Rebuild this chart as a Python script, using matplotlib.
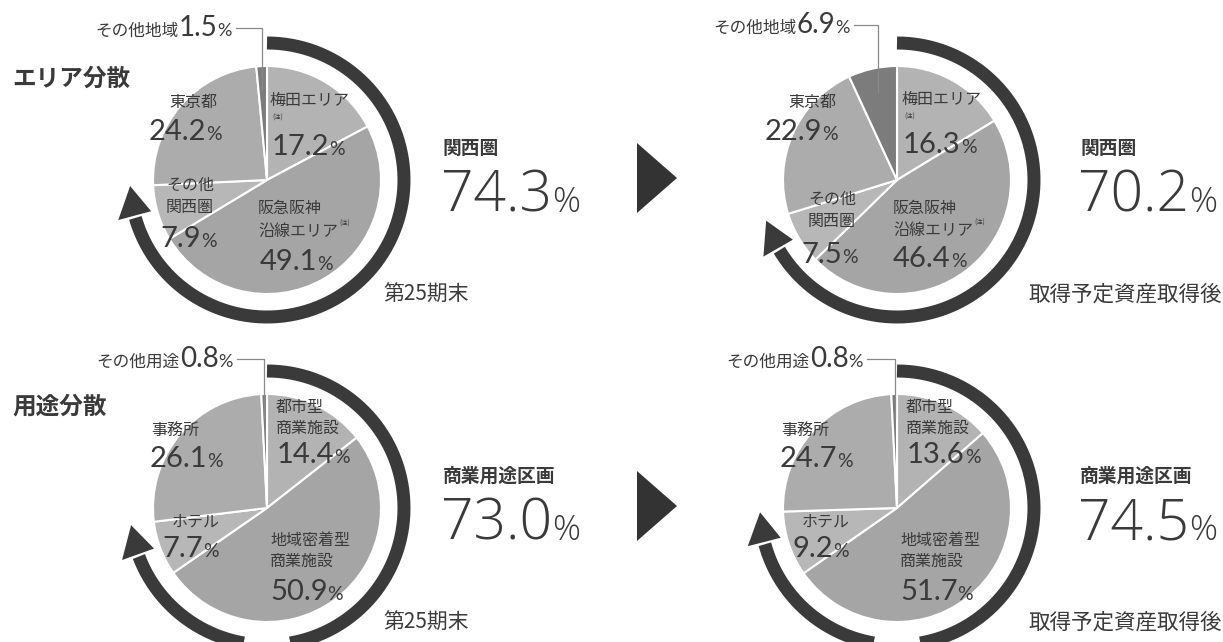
import numpy as np
import matplotlib
matplotlib.use("Agg")
import matplotlib.pyplot as plt

# ── Data ───────────────────────────────────────────────────
area_names = ["梅田エリア", "阪急阪神沿線エリア", "その他関西圏", "東京都", "その他地域"]
area_before = [17.2, 49.1, 7.9, 24.2, 1.5]
area_after = [16.3, 46.4, 7.5, 22.9, 6.9]
area_ring = [74.3, 70.2]            # 関西圏

use_names = ["都市型商業施設", "地域密着型商業施設", "ホテル", "事務所", "その他用途"]
use_before = [14.4, 50.9, 7.7, 26.1, 0.8]
use_after = [13.6, 51.7, 9.2, 24.7, 0.8]
use_ring = [73.0, 74.5]             # 商業用途区画

row_titles = ["エリア分散", "用途分散"]
ring_titles = ["関西圏", "商業用途区画"]
period_labels = ["第25期末", "取得予定資産取得後"]

# ── Style ──────────────────────────────────────────────────
W, H = 1223, 642
JP = ["Noto Sans CJK JP", "DejaVu Sans"]
NUM = ["Lato", "Noto Sans CJK JP", "DejaVu Sans"]
BIG = ["Open Sans", "Lato", "DejaVu Sans"]
TXT = "#3a3a3a"
DARK = "#3a3a3a"
SLICE_COLORS = ["#b3b3b3", "#a5a5a5", "#b7b7b7", "#acacac", "#7c7c7c"]
R_PIE = 114
R_RING = 137
RING_PX = 13

plt.rcParams["font.family"] = JP

fig = plt.figure(figsize=(W / 100, H / 100), dpi=100)
ax = fig.add_axes([0, 0, 1, 1])


def Y(y):
    return H - y


def draw_pie(cx, cy, values):
    ax.pie(values, colors=SLICE_COLORS, startangle=90, counterclock=False,
           radius=R_PIE, center=(cx, Y(cy)),
           wedgeprops=dict(edgecolor="white", linewidth=1.5))


def draw_ring(cx, cy, pct):
    tip = 90 - 360 * pct / 100
    head_len = np.degrees(30 / R_RING)
    base = tip + head_len
    th = np.radians(np.linspace(90, base + 1, 300))
    ax.plot(cx + R_RING * np.cos(th), Y(cy) + R_RING * np.sin(th),
            color=DARK, lw=RING_PX * 0.72, solid_capstyle="butt")
    b, t = np.radians(base), np.radians(tip)
    hw = 17
    ax.fill([cx + (R_RING - hw) * np.cos(b), cx + (R_RING + hw) * np.cos(b),
             cx + R_RING * np.cos(t)],
            [Y(cy) + (R_RING - hw) * np.sin(b), Y(cy) + (R_RING + hw) * np.sin(b),
             Y(cy) + R_RING * np.sin(t)], color=DARK, lw=0)


for (cx, cy), vals in [((267, 180), area_before), ((897, 180), area_after),
                       ((267, 508), use_before), ((897, 508), use_after)]:
    draw_pie(cx, cy, vals)
for (cx, cy), p in [((267, 180), area_ring[0]), ((897, 180), area_ring[1]),
                    ((267, 508), use_ring[0]), ((897, 508), use_ring[1])]:
    draw_ring(cx, cy, p)

ax.set_xlim(0, W)
ax.set_ylim(0, H)
ax.set_aspect("equal")
ax.axis("off")

renderer = fig.canvas.get_renderer()


# ── Text helpers ───────────────────────────────────────────
def rich(x, y, parts, ha="left"):
    """parts: (text, size, family, weight, rise) placed side by side on one baseline"""
    arts = []
    for s, fs, fam, wt, rise in parts:
        a = ax.text(0, Y(y) + rise, s, fontsize=fs, family=fam, fontweight=wt,
                    va="baseline", ha="left", color=TXT)
        arts.append(a)
    ws = [a.get_window_extent(renderer).width for a in arts]
    total = sum(ws)
    start = {"left": x, "right": x - total, "center": x - total / 2}[ha]
    for a, w in zip(arts, ws):
        a.set_x(start)
        start += w
    return start


def pct(x, y, v, ha="left", fs=21, pfs=14):
    return rich(x, y, [(f"{v:.1f}", fs, NUM, "normal", 0),
                       ("%", pfs, NUM, "normal", 0)], ha=ha)


def jp(x, y, s, fs=11.5, ha="left", weight="normal"):
    ax.text(x, Y(y), s, fontsize=fs, ha=ha, va="center", color=TXT,
            fontweight=weight)


def note(x, y):
    ax.text(x, Y(y), "(注)", fontsize=4.5, ha="left", va="center", color=TXT)


def leader(cx, cy, vals, text_right, base_y, name, v):
    rich(text_right, base_y, [(name, 12, JP, "normal", 0),
                              (f"{v:.1f}", 20, NUM, "normal", 0),
                              ("%", 13, NUM, "normal", 0)], ha="right")
    mid = 90 - 360 * (sum(vals[:-1]) + vals[-1] / 2) / 100
    lx = cx + 90 * np.cos(np.radians(mid))
    ly = cy - 90 * np.sin(np.radians(mid))
    hy = base_y - 8
    ax.plot([text_right + 4, lx, lx], [Y(hy), Y(hy), Y(ly)],
            color="#8a8a8a", lw=0.9)


# ── Area pies ──────────────────────────────────────────────
jp(12, 79, row_titles[0], fs=17, weight="bold")
jp(12, 407, row_titles[1], fs=17, weight="bold")

# before (267,180)
cx, cy = 267, 180
jp(cx + 3, cy - 80, "梅田エリア")
note(cx + 5, cy - 62)
pct(cx + 5, cy - 25, area_before[0])
x = rich(cx - 9, cy + 56, [("沿線エリア", 11.5, JP, "normal", 0)])
note(x + 1, cy + 44)
jp(cx - 9, cy + 28, "阪急阪神")
pct(cx - 7, cy + 90, area_before[1])
jp(cx - 77, cy + 5, "その他", ha="center")
jp(cx - 77, cy + 27, "関西圏", ha="center")
pct(cx - 78, cy + 67, area_before[2], ha="center")
jp(cx - 74, cy - 78, area_names[3], ha="center")
pct(cx - 82, cy - 40, area_before[3], ha="center")
leader(cx, cy, area_before, 232, 36, area_names[4], area_before[4])

# after (897,180)
cx, cy = 897, 180
jp(cx + 5, cy - 81, "梅田エリア")
note(cx + 7, cy - 63)
pct(cx + 6, cy - 27, area_after[0])
x = rich(cx - 4, cy + 55, [("沿線エリア", 11.5, JP, "normal", 0)])
note(x + 1, cy + 43)
jp(cx - 4, cy + 28, "阪急阪神")
pct(cx - 4, cy + 87, area_after[1])
jp(cx - 65, cy + 19, "その他", ha="center")
jp(cx - 65, cy + 41, "関西圏", ha="center")
pct(cx - 67, cy + 83, area_after[2], ha="center")
jp(cx - 85, cy - 78, area_names[3], ha="center")
pct(cx - 96, cy - 40, area_after[3], ha="center")
leader(cx, cy, area_after, 850, 33, area_names[4], area_after[4])

# ── Use pies ───────────────────────────────────────────────
for (cx, cy), vals, txt_r in [((267, 508), use_before, 233),
                              ((897, 508), use_after, 863)]:
    jp(cx + 9, cy - 101, "都市型")
    jp(cx + 9, cy - 80, "商業施設")
    pct(cx + 10, cy - 45, vals[0])
    jp(cx + 3, cy + 33, "地域密着型")
    jp(cx + 3, cy + 53, "商業施設")
    pct(cx + 3, cy + 92, vals[1])
    jp(cx - 71, cy + 14, use_names[2], ha="center")
    pct(cx - 105, cy + 49, vals[2])
    jp(cx - 92, cy - 78, use_names[3], ha="center")
    pct(cx - 117, cy - 41, vals[3])
    leader(cx, cy, vals, txt_r, cy - 141, use_names[4], vals[4])

# ── Right-side summaries ───────────────────────────────────
for row, rings in enumerate([area_ring, use_ring]):
    dy = 328 * row
    for col, p in enumerate(rings):
        lx = [443, 1080][col]
        jp(lx, 148 + dy, ring_titles[row], fs=13.5, weight="bold")
        rich(lx - 2, 212 + dy, [(f"{p:.1f}", 41, BIG, "light", 0),
                                ("%", 25, BIG, "light", 0)])
    jp(383, 295 + dy, period_labels[0], fs=15)
    jp(1222, 295 + dy, period_labels[1], fs=15.5, ha="right")
    # transition triangle
    ax.fill([637, 637, 677], [Y(143 + dy), Y(213 + dy), Y(178 + dy)],
            color="#333333", lw=0)

fig.savefig("out.png", dpi=100, facecolor="white")
